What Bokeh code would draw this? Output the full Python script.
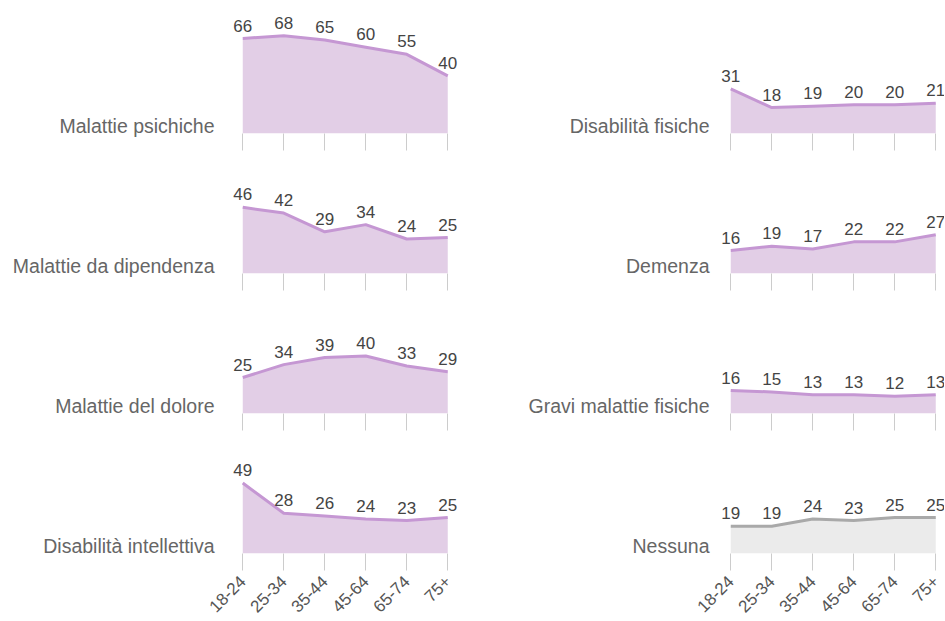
import math
from bokeh.plotting import figure
from bokeh.layouts import column, row
from bokeh.models import Range1d, FixedTicker, ColumnDataSource, CustomLabelingPolicy
from bokeh.core.properties import value
from bokeh.embed import file_html
from bokeh.resources import INLINE

ages = ["18-24", "25-34", "35-44", "45-64", "65-74", "75+"]

left_names = ["Malattie psichiche", "Malattie da dipendenza",
              "Malattie del dolore", "Disabilità intellettiva"]
left_values = [
    [66, 68, 65, 60, 55, 40],
    [46, 42, 29, 34, 24, 25],
    [25, 34, 39, 40, 33, 29],
    [49, 28, 26, 24, 23, 25],
]
right_names = ["Disabilità fisiche", "Demenza",
               "Gravi malattie fisiche", "Nessuna"]
right_values = [
    [31, 18, 19, 20, 20, 21],
    [16, 19, 17, 22, 22, 27],
    [16, 15, 13, 13, 12, 13],
    [19, 19, 24, 23, 25, 25],
]

FONT = "Liberation Sans"
PX_PER_UNIT = 1.45      # vertical scale, pixels per percentage point
PX_PER_STEP = 41        # horizontal distance between age groups
LABEL_GAP_PX = 13       # value label above its point
PURPLE_FILL = "#e2cee6"
PURPLE_LINE = "#c597d3"
GREY_FILL = "#ebebeb"
GREY_LINE = "#a9a9a9"


def panel(name, vals, col, rowi, grey=False):
    first = rowi == 0
    last = rowi == 3
    frame_h = 134 if first else 120
    bottom = 66 if last else 20
    height = frame_h + bottom
    if col == 0:
        ml, fw, mr = 232, 228, 10
        standoff = 12
    else:
        ml, fw, mr = 250, 224, 0
        standoff = 5
    xr = Range1d(-0.25, fw / PX_PER_STEP - 0.25)
    width = ml + fw + mr
    yr = Range1d(0, frame_h / PX_PER_UNIT)
    p = figure(width=width, height=height, x_range=xr, y_range=yr,
               output_backend="svg", toolbar_location=None,
               min_border_left=ml, min_border_right=mr,
               min_border_top=0, min_border_bottom=bottom)
    p.outline_line_color = None
    p.grid.visible = False
    p.background_fill_color = "white"
    p.border_fill_color = "white"

    xs = list(range(len(ages)))
    gap = LABEL_GAP_PX / PX_PER_UNIT
    src = ColumnDataSource(dict(x=xs, y=vals, ty=[v + gap for v in vals],
                                t=[str(v) for v in vals]))
    fill = GREY_FILL if grey else PURPLE_FILL
    linec = GREY_LINE if grey else PURPLE_LINE
    p.varea(x="x", y1=0, y2="y", source=src, fill_color=fill)
    p.line(x="x", y="y", source=src, line_color=linec, line_width=3)
    p.text(x="x", y="ty", text="t", source=src, text_align="center",
           text_baseline="alphabetic",
           text_font=value(FONT), text_font_size="17px", text_color="#444444")

    # x axis
    xa = p.xaxis[0]
    xa.ticker = FixedTicker(ticks=xs)
    xa.axis_line_color = None
    xa.major_tick_in = 0
    xa.major_tick_out = 17
    xa.major_tick_line_color = "#cccccc"
    xa.major_tick_line_width = 1
    xa.minor_tick_line_color = None
    if last:
        xa.major_label_overrides = {i: a for i, a in enumerate(ages)}
        xa.major_label_orientation = math.pi / 4
        xa.major_label_text_font = FONT
        xa.major_label_text_font_size = "17px"
        xa.major_label_text_color = "#555555"
        xa.major_label_standoff = 8
    else:
        xa.major_label_policy = CustomLabelingPolicy(
            code="for (const i of indices) indices.unset(i); return indices")
        xa.major_label_text_font_size = "1px"
        xa.major_label_standoff = 0

    # y axis carries the category name
    ya = p.yaxis[0]
    ya.ticker = FixedTicker(ticks=[5.5])
    ya.major_label_overrides = {5.5: name}
    ya.axis_line_color = None
    ya.major_tick_line_color = None
    ya.minor_tick_line_color = None
    ya.major_label_standoff = standoff
    ya.major_label_text_font = FONT
    ya.major_label_text_font_size = "19.5px"
    ya.major_label_text_color = "#666666"
    return p


rows = []
for i in range(4):
    lp = panel(left_names[i], left_values[i], 0, i)
    rp = panel(right_names[i], right_values[i], 1, i, grey=(i == 3))
    rows.append(row(lp, rp))

layout = column(*rows)
open("out.html", "w").write(file_html(layout, INLINE))
